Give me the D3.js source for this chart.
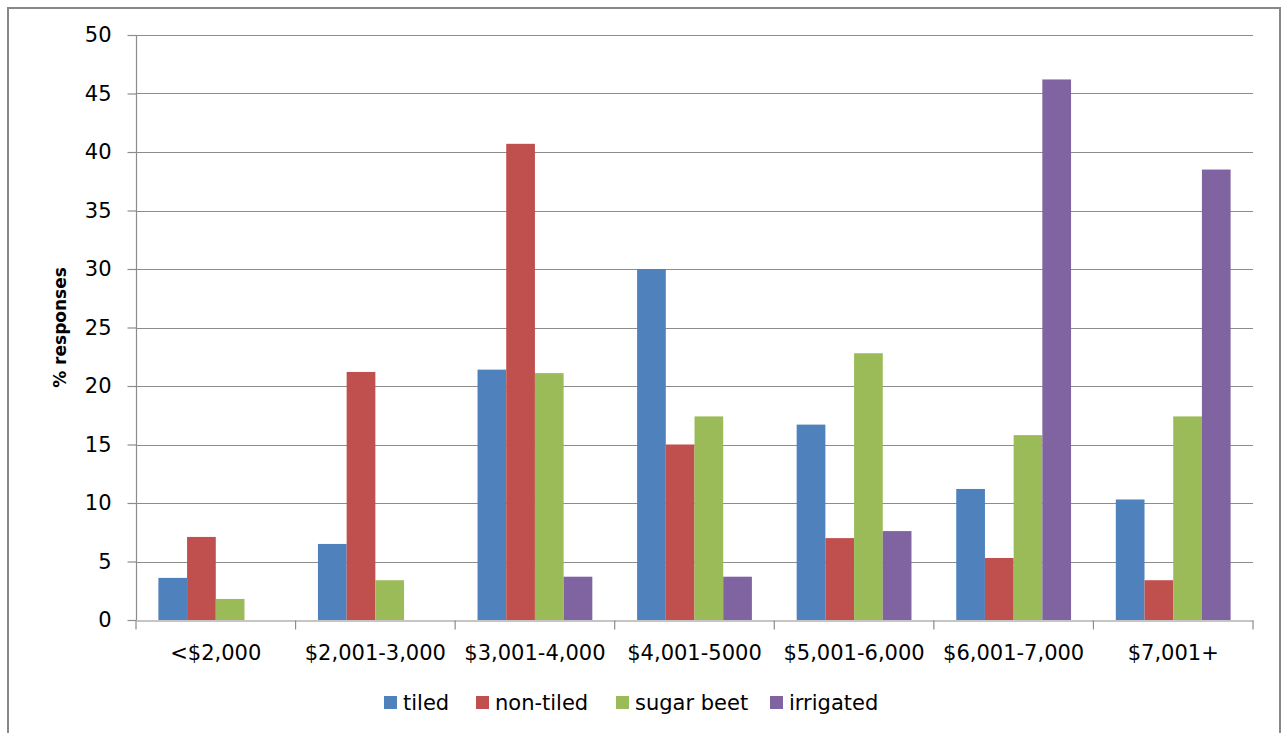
<!DOCTYPE html>
<html>
<head>
<meta charset="utf-8">
<script src="https://cdn.jsdelivr.net/npm/d3@7"></script>
<style>
    body { margin: 0; background: #fff; }
    svg text { font-family: "DejaVu Sans", sans-serif; fill: #000; }
</style>
</head>
<body>
<script>
const categories = ["<$2,000", "$2,001-3,000", "$3,001-4,000", "$4,001-5000", "$5,001-6,000", "$6,001-7,000", "$7,001+"];
const seriesNames = ["tiled", "non-tiled", "sugar beet", "irrigated"];
const seriesColors = ["#4F81BD", "#C0504D", "#9BBB59", "#8064A2"];
const tiled = [3.6, 6.5, 21.4, 30.0, 16.7, 11.2, 10.3];
const nonTiled = [7.1, 21.2, 40.7, 15.0, 7.0, 5.3, 3.4];
const sugarBeet = [1.8, 3.4, 21.1, 17.4, 22.8, 15.8, 17.4];
const irrigated = [0, 0, 3.7, 3.7, 7.6, 46.2, 38.5];
const yTicks = [0, 5, 10, 15, 20, 25, 30, 35, 40, 45, 50];

const width = 1282, height = 733;
const margin = {left: 136, right: 29, top: 35, bottom: 113};

const values = [tiled, nonTiled, sugarBeet, irrigated];

let svg = d3.select("body").append("svg")
    .attr("width", width)
    .attr("height", height);

// outer frame
svg.append("rect")
    .attr("x", 8).attr("y", 8)
    .attr("width", 1272).attr("height", 740)
    .attr("fill", "none")
    .attr("stroke", "#888")
    .attr("stroke-width", 2);

let x = d3.scaleBand()
    .domain(categories)
    .range([margin.left, width - margin.right])
    .paddingInner(0).paddingOuter(0);

let x1 = d3.scaleBand()
    .domain(seriesNames)
    .range([0, x.bandwidth()])
    .paddingOuter(0.78)
    .paddingInner(0);

let y = d3.scaleLinear()
    .domain([0, 50])
    .range([height - margin.bottom, margin.top]);

// gridlines
svg.append("g")
    .selectAll("line")
    .data(yTicks.filter(d => d > 0))
    .join("line")
    .attr("x1", margin.left)
    .attr("x2", width - margin.right)
    .attr("y1", d => Math.round(y(d)) + 0.5)
    .attr("y2", d => Math.round(y(d)) + 0.5)
    .attr("stroke", "#8c8c8c")
    .attr("stroke-width", 1.2);

// bars
let groups = svg.append("g")
    .selectAll("g")
    .data(seriesNames)
    .join("g")
    .attr("fill", (d, i) => seriesColors[i]);

groups.selectAll("rect")
    .data((s, i) => values[i].map((v, j) => ({cat: categories[j], s: s, v: v})))
    .join("rect")
    .filter(d => d.v > 0)
    .attr("x", d => x(d.cat) + x1(d.s))
    .attr("width", x1.bandwidth())
    .attr("y", d => y(d.v))
    .attr("height", d => y(0) - y(d.v));

// y axis
let yAxis = svg.append("g")
    .attr("transform", "translate(" + (margin.left + 0.5) + ",0)")
    .call(d3.axisLeft(y).tickValues(yTicks).tickSize(9).tickPadding(16));
yAxis.select(".domain").attr("stroke", "#8c8c8c").attr("stroke-width", 1.2)
    .attr("d", "M0," + margin.top + "V" + y(0));
yAxis.selectAll(".tick line").attr("stroke", "#8c8c8c").attr("stroke-width", 1.2);
yAxis.selectAll(".tick text").attr("font-size", 21).attr("font-family", "DejaVu Sans").attr("fill", "#000");

// x axis
let xAxis = svg.append("g")
    .attr("transform", "translate(0," + (y(0) + 0.5) + ")")
    .call(d3.axisBottom(x).tickSize(0).tickPadding(25));
xAxis.select(".domain").attr("stroke", "#8c8c8c").attr("stroke-width", 1.2);
xAxis.selectAll(".tick text").attr("font-size", 21).attr("font-family", "DejaVu Sans").attr("fill", "#000");
xAxis.selectAll(".sep")
    .data(d3.range(categories.length + 1))
    .join("line")
    .attr("class", "sep")
    .attr("x1", i => i < categories.length ? x(categories[i]) : x.range()[1])
    .attr("x2", i => i < categories.length ? x(categories[i]) : x.range()[1])
    .attr("y1", 0).attr("y2", 9)
    .attr("stroke", "#8c8c8c").attr("stroke-width", 1.2);

// y axis title
svg.append("text")
    .attr("transform", "translate(66," + (margin.top + y(0)) / 2 + ") rotate(-90)")
    .attr("text-anchor", "middle")
    .attr("font-size", 17)
    .attr("font-weight", "bold")
    .text("% responses");

// legend
let legendX = [384, 476, 616, 770];
let legend = svg.append("g")
    .selectAll("g")
    .data(seriesNames)
    .join("g")
    .attr("transform", (d, i) => "translate(" + legendX[i] + ",696)");
legend.append("rect")
    .attr("width", 13).attr("height", 13)
    .attr("fill", (d, i) => seriesColors[i]);
legend.append("text")
    .attr("x", 19).attr("y", 14)
    .attr("font-size", 21)
    .text(d => d);
</script>
</body>
</html>
